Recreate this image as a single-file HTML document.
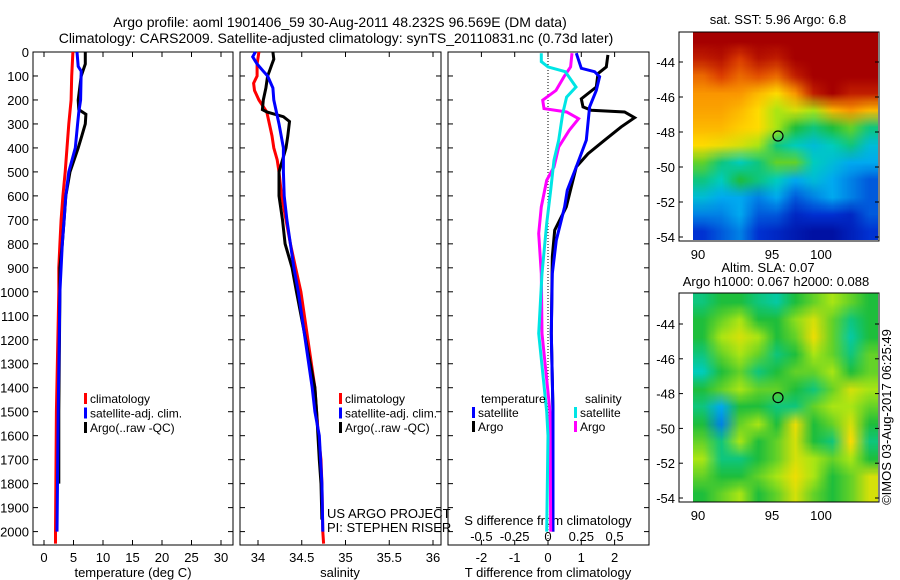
<!DOCTYPE html>
<html><head><meta charset="utf-8">
<style>
html,body{margin:0;padding:0;background:#fff;}
#wrap{position:relative;width:900px;height:580px;overflow:hidden;background:#fff;font-family:"Liberation Sans",sans-serif;}
svg text{font-family:"Liberation Sans",sans-serif;font-size:13px;fill:#000;}
svg text.leg{font-size:12px;}
svg text.ttl{font-size:14px;}
canvas{position:absolute;}
</style></head>
<body>
<div id="wrap">
<canvas id="sst" width="185" height="208" style="left:693px;top:32px;width:185px;height:208px;"></canvas>
<canvas id="sla" width="185" height="209" style="left:693px;top:293px;width:185px;height:209px;"></canvas>
<svg id="chart" width="900" height="580" style="position:absolute;left:0;top:0"></svg>
</div>
<script>
// ---------- DATA ----------
const depthTicks=[0,100,200,300,400,500,600,700,800,900,1000,1100,1200,1300,1400,1500,1600,1700,1800,1900,2000];
const tempTicks=[0,5,10,15,20,25,30];
const salTicks=[34,34.5,35,35.5,36];
const tdiffTicks=[-2,-1,0,1,2];
const sdiffTicks=[-0.5,-0.25,0,0.25,0.5];
const sdiffTickLabels=["-0.5","-0.25","0","0.25","0.5"];
const latTicks=[-44,-46,-48,-50,-52,-54];
const lonTicks=["90","95","100"];

const tClimDepth=[0,100,200,300,400,500,600,700,800,900,1000,1500,2000,2050];
const tClimVal=[4.9,4.7,4.6,4.2,3.9,3.6,3.2,2.9,2.7,2.5,2.5,2.1,1.95,1.95];
const tSatDepth=[0,60,80,200,250,300,400,500,600,700,800,900,1000,1500,2000];
const tSatVal=[5.6,5.8,6.3,6.2,5.9,5.7,5.3,4.2,3.7,3.4,3.1,2.9,2.7,2.4,2.2];
const tArgoDepth=[0,50,100,200,240,260,300,350,400,450,500,600,700,800,900,1000,1500,1800];
const tArgoVal=[7.0,7.0,6.3,5.8,5.9,7.1,7.0,6.4,5.8,5.1,4.4,3.7,3.4,3.1,2.7,2.7,2.5,2.5];

const sClimDepth=[0,50,100,130,160,200,250,300,350,400,450,500,600,700,800,900,1000,1400,1500,1600,1700,1800,2000,2050];
const sClimVal=[34.01,33.99,33.99,33.95,33.96,34.01,34.10,34.13,34.16,34.18,34.22,34.24,34.27,34.32,34.37,34.43,34.49,34.65,34.67,34.69,34.72,34.73,34.74,34.75];
const sSatDepth=[0,20,50,80,100,150,200,250,300,400,500,600,700,800,900,1000,1400,1500,1600,1800,2000];
const sSatVal=[33.97,33.94,33.99,34.06,34.11,34.17,34.18,34.21,34.24,34.29,34.29,34.30,34.33,34.37,34.41,34.46,34.62,34.65,34.70,34.73,34.74];
const sArgoDepth=[0,30,50,80,100,150,200,240,250,270,290,350,400,450,500,600,700,800,900,1000,1400,1500,1700,1800,1950];
const sArgoVal=[34.17,34.18,34.16,34.13,34.11,34.09,34.06,34.05,34.10,34.29,34.36,34.34,34.32,34.28,34.24,34.24,34.28,34.31,34.39,34.44,34.65,34.67,34.70,34.72,34.73];

const dTArgoDepth=[12,62,90,146,195,229,243,250,274,312,368,424,479,562,646,743,854,1174,1500,2000];
const dTArgoVal=[1.8,1.75,1.5,1.45,1.0,1.05,1.3,2.3,2.6,2.2,1.7,1.2,0.85,0.7,0.55,0.2,0.13,0.1,0.15,0.15];
const dTSatDepth=[5,68,82,103,160,229,368,479,576,646,785,924,1174,1500,2000];
const dTSatVal=[0.85,1.0,1.4,1.55,1.45,1.25,1.15,0.85,0.58,0.5,0.25,0.13,0.1,0.15,0.15];
const dSSatDepth=[5,40,62,82,146,188,257,368,451,576,715,924,1174,1500,1600,2000];
const dSSatVal=[-0.05,-0.05,0.0,0.13,0.21,0.14,0.11,0.08,0.045,0.02,-0.01,-0.045,-0.07,-0.01,0.0,-0.01];
const dSArgoDepth=[5,62,103,160,201,236,250,278,326,396,479,535,646,757,924,1174,1500,2000];
const dSArgoVal=[0.18,0.17,0.12,0.06,-0.04,-0.03,0.14,0.23,0.16,0.08,0.045,-0.01,-0.05,-0.07,-0.05,-0.045,0.015,0.02];

const sstGrid=[
[1,1,1,1,1,1,1,1,1,1],
[.95,.97,.9,.97,.95,1,1,1,1,1],
[.85,.9,.85,.88,.85,.95,1,1,1,1],
[.8,.8,.8,.75,.7,.8,.95,1,.95,.95],
[.78,.78,.75,.7,.6,.65,.6,.75,.8,.75],
[.75,.75,.72,.7,.6,.5,.45,.5,.55,.45],
[.7,.68,.65,.6,.45,.4,.35,.4,.45,.35],
[.55,.45,.4,.45,.55,.55,.4,.35,.3,.3],
[.45,.4,.5,.45,.4,.3,.35,.3,.25,.2],
[.35,.3,.3,.25,.3,.2,.25,.3,.25,.2],
[.25,.25,.3,.2,.2,.12,.15,.15,.12,.2],
[.15,.2,.25,.15,.12,.08,.05,.05,.1,.15]];
const slaGrid=[
[.45,.5,.5,.45,.42,.5,.55,.6,.55,.5],
[.5,.55,.6,.5,.5,.58,.65,.55,.45,.5],
[.5,.6,.65,.6,.5,.55,.68,.55,.42,.5],
[.45,.55,.6,.55,.45,.5,.6,.55,.45,.55],
[.4,.5,.55,.45,.5,.55,.55,.6,.5,.55],
[.5,.55,.6,.55,.55,.5,.45,.55,.65,.6],
[.45,.3,.5,.5,.45,.45,.55,.6,.6,.55],
[.5,.25,.55,.6,.5,.68,.5,.55,.65,.5],
[.55,.45,.6,.5,.55,.65,.5,.45,.7,.45],
[.6,.45,.45,.5,.55,.65,.6,.55,.6,.5],
[.55,.5,.5,.55,.6,.68,.6,.5,.55,.65],
[.5,.55,.6,.5,.55,.65,.55,.5,.55,.65]];

// ---------- SCALES ----------
const yD=d=>52+0.2398*d;
const xT=t=>44+5.9*t;
const xS=s=>258+87.5*(s-34);
const xDT=t=>548+33.3*t;
const xDS=s=>548+133.2*s;
const latY1=l=>62+17.5*(-44-l);
const latY2=l=>324+17.4*(-44-l);

const NS="http://www.w3.org/2000/svg";
const svg=document.getElementById('chart');
function mk(tag,attrs,parent){const e=document.createElementNS(NS,tag);for(const k in attrs)e.setAttribute(k,attrs[k]);(parent||svg).appendChild(e);return e;}
function txt(x,y,s,anchor,parent){const e=mk('text',{x:x,y:y,'text-anchor':anchor||'start'},parent);e.textContent=s;return e;}

let t1=txt(340,27,"Argo profile: aoml 1901406_59 30-Aug-2011 48.232S 96.569E (DM data)","middle");
t1.setAttribute('class','ttl');


let t2=txt(336,43,"Climatology: CARS2009. Satellite-adjusted climatology: synTS_20110831.nc (0.73d later)","middle");
t2.setAttribute('class','ttl');



const panels=[{x0:33,x1:233,name:'temperature-panel'},{x0:240,x1:441,name:'salinity-panel'},{x0:448,x1:649,name:'difference-panel'}];
const plotTop=52,plotBot=545;
panels.forEach(p=>{
  const g=mk('g',{});
  
  
  p.g=g;
  const r=mk('rect',{x:p.x0,y:plotTop,width:p.x1-p.x0,height:plotBot-plotTop,fill:'none',stroke:'#000','stroke-width':1},g);
  
  
  depthTicks.forEach(d=>{
    mk('line',{x1:p.x0,x2:p.x0+5,y1:yD(d),y2:yD(d),stroke:'#000'},g);
    mk('line',{x1:p.x1-5,x2:p.x1,y1:yD(d),y2:yD(d),stroke:'#000'},g);
  });
});
depthTicks.forEach(d=>{
  const e=txt(29,yD(d)+5,String(d),'end');
  
  
});
function xAxis(p,ticks,labels,fx){
  ticks.forEach((v,i)=>{
    const x=fx(v);
    mk('line',{x1:x,x2:x,y1:plotTop,y2:plotTop+5,stroke:'#000'},p.g);
    mk('line',{x1:x,x2:x,y1:plotBot-5,y2:plotBot,stroke:'#000'},p.g);
    const e=txt(x,562,labels[i],'middle',p.g);
    
    
  });
}
xAxis(panels[0],tempTicks,tempTicks.map(String),xT);
xAxis(panels[1],salTicks,salTicks.map(String),xS);
xAxis(panels[2],tdiffTicks,tdiffTicks.map(String),xDT);
sdiffTicks.forEach((v,i)=>{const e=txt(xDS(v),541,sdiffTickLabels[i],'middle');
  
  });
let a;
a=txt(133,577,"temperature (deg C)","middle");
a=txt(340,577,"salinity","middle");
a=txt(548,577,"T difference from climatology","middle");
a=txt(548,525,"S difference from climatology","middle");
a=txt(327,518,"US ARGO PROJECT");
a=txt(327,532,"PI: STEPHEN RISER");

const zl=mk('line',{x1:xDT(0),x2:xDT(0),y1:plotTop,y2:plotBot,stroke:'#000','stroke-dasharray':'1,2'});



function series(depths,vals,fx,color,name){
  const pts=depths.map((d,i)=>fx(vals[i]).toFixed(1)+','+yD(d).toFixed(1)).join(' ');
  const pl=mk('polyline',{points:pts,fill:'none',stroke:color,'stroke-width':3,'stroke-linejoin':'miter'});
  
  
}
series(tClimDepth,tClimVal,xT,'#ff0000','temp-climatology-line');
series(tArgoDepth,tArgoVal,xT,'#000000','temp-argo-line');
series(tSatDepth,tSatVal,xT,'#0000ff','temp-satellite-line');
series(sClimDepth,sClimVal,xS,'#ff0000','sal-climatology-line');
series(sArgoDepth,sArgoVal,xS,'#000000','sal-argo-line');
series(sSatDepth,sSatVal,xS,'#0000ff','sal-satellite-line');
series(dTArgoDepth,dTArgoVal,xDT,'#000000','tdiff-argo-line');
series(dTSatDepth,dTSatVal,xDT,'#0000ff','tdiff-satellite-line');
series(dSArgoDepth,dSArgoVal,xDS,'#ff00ff','sdiff-argo-line');
series(dSSatDepth,dSSatVal,xDS,'#00e5e5','sdiff-satellite-line');

function legendItem(x,y,color,label){
  const g=mk('g',{});
  
  
  mk('rect',{x:x,y:y-10,width:3,height:11,fill:color},g);
  const t=txt(x+6,y,label,'start',g);
  t.setAttribute('class','leg');
}
[[0,'#ff0000','climatology'],[1,'#0000ff','satellite-adj. clim.'],[2,'#000000','Argo(..raw -QC)']].forEach(r=>{
  legendItem(84,403+r[0]*14.5,r[1],r[2]);
  legendItem(339,403+r[0]*14.5,r[1],r[2]);
});
a=txt(481,403,"temperature");a.setAttribute('class','leg');
a=txt(585,403,"salinity");a.setAttribute('class','leg');
legendItem(472,417,'#0000ff','satellite');
legendItem(472,431,'#000000','Argo');
legendItem(574,417,'#00e5e5','satellite');
legendItem(574,431,'#ff00ff','Argo');

// ---------- MAPS ----------
const stops=[[0,[0,0,140]],[.15,[0,50,210]],[.3,[0,170,240]],[.4,[0,205,190]],[.5,[30,190,60]],[.6,[170,230,20]],[.7,[255,220,0]],[.8,[250,150,0]],[.9,[220,60,0]],[1,[165,0,0]]];
function cmap(v){for(let i=1;i<stops.length;i++){if(v<=stops[i][0]){const a0=stops[i-1],b=stops[i];const f=(v-a0[0])/(b[0]-a0[0]);return a0[1].map((c,k)=>Math.round(c+(b[1][k]-c)*f));}}return stops[stops.length-1][1];}
function drawMap(id,grid){
  const c=document.getElementById(id),ctx=c.getContext('2d');
  const rows=grid.length,cols=grid[0].length;
  const small=document.createElement('canvas');small.width=cols;small.height=rows;
  const sc=small.getContext('2d');const im=sc.createImageData(cols,rows);
  grid.forEach((row,r)=>row.forEach((v,k)=>{const col=cmap(v);const i=(r*cols+k)*4;im.data[i]=col[0];im.data[i+1]=col[1];im.data[i+2]=col[2];im.data[i+3]=255;}));
  sc.putImageData(im,0,0);
  ctx.imageSmoothingEnabled=true;
  ctx.drawImage(small,0,0,c.width,c.height);
}
drawMap('sst',sstGrid);
drawMap('sla',slaGrid);

function mapFrame(y0,y1,latY,name){
  const g=mk('g',{});
  
  
  mk('rect',{x:679,y:y0,width:200,height:y1-y0,fill:'none',stroke:'#000'},g);
  latTicks.forEach(l=>{
    const y=latY(l);
    mk('line',{x1:679,x2:683,y1:y,y2:y,stroke:'#000'},g);
    mk('line',{x1:875,x2:879,y1:y,y2:y,stroke:'#000'},g);
    txt(675,y+5,String(l),'end',g);
  });
  [698,772,821].forEach((x,i)=>{txt(x,y1+18,lonTicks[i],'middle',g);});
  mk('ellipse',{cx:778,cy:latY(-48.23),rx:5,ry:5,fill:'none',stroke:'#000','stroke-width':1.2},g);
}
mapFrame(32,241,latY1,'sst-map-frame');
mapFrame(293,502,latY2,'sla-map-frame');
a=txt(778,24,"sat. SST: 5.96 Argo: 6.8","middle");
a=txt(768,272,"Altim. SLA: 0.07","middle");
a=txt(776,286,"Argo h1000: 0.067 h2000: 0.088","middle");
a=txt(0,0,"©IMOS 03-Aug-2017 06:25:49","middle");
a.setAttribute('transform','translate(891,417) rotate(-90)');


</script>
</body></html>
